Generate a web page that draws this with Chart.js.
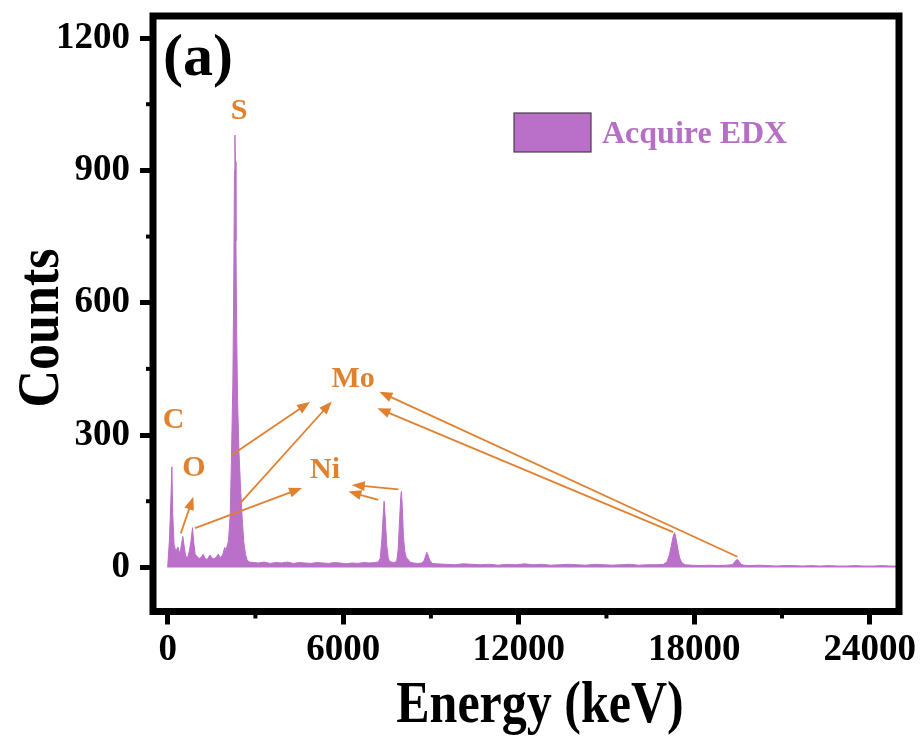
<!DOCTYPE html>
<html>
<head>
<meta charset="utf-8">
<script src="https://cdn.jsdelivr.net/npm/chart.js@4.4.1/dist/chart.umd.min.js"></script>
<style>
  body { margin: 0; background: #fff; }
  canvas { display: block; }
</style>
</head>
<body>
<canvas id="edxChart" width="920" height="740"></canvas>
<script>
"use strict";

//////////////////////////////
// Data
const energy = [
  0, 60, 110, 145, 175, 220, 280, 350, 420, 480, 520, 560, 620, 680, 740, 800, 850, 890, 940, 1000,
  1080, 1150, 1215, 1280, 1350, 1450, 1530, 1600, 1680, 1730, 1800, 1880, 1950, 2000,
  2080, 2140, 2180, 2230, 2260, 2285, 2300, 2315, 2335, 2360, 2390, 2440, 2500, 2550, 2600, 2660, 2720,
  2800, 2950, 3100, 3300, 3500, 3700, 3900, 4100, 4300, 4500, 4700, 4900, 5100, 5300, 5500, 5700,
  5900, 6100, 6300, 6500, 6700, 6900, 7100,
  7200, 7265, 7320, 7370, 7400, 7440, 7490, 7540, 7580, 7650, 7750, 7830, 7880, 7930, 7970, 7990,
  8020, 8060, 8110, 8160, 8220, 8280, 8400, 8550, 8700, 8770, 8830, 8860, 8900, 8960, 9040, 9200,
  9500, 9800, 10100, 10400, 10700, 11000, 11300, 11600, 11900, 12200, 12500, 12800, 13100, 13400,
  13700, 14000, 14300, 14600, 14900, 15200, 15500, 15800, 16100, 16400, 16700, 16950,
  17065, 17150, 17220, 17280, 17330, 17380, 17440, 17500, 17580, 17700,
  17900, 18200, 18500, 18800, 19100,
  19300, 19380, 19440, 19480, 19530, 19600, 19700,
  19900, 20200, 20500, 20800, 21100, 21400, 21700, 22000, 22300, 22600, 22900, 23200, 23500, 23800,
  24100, 24400, 24700, 25000
];
const counts = [
  0, 60, 150, 228, 120, 52, 36, 46, 30, 55, 70, 50, 25, 22, 36, 60, 90, 58, 30, 25,
  20, 23, 30, 20, 18, 28, 20, 19, 25, 30, 22, 28, 45, 40,
  60, 120, 240, 420, 640, 900, 980, 920, 740, 540, 380, 260, 170, 110, 60, 30, 16,
  12, 11, 10, 12, 9, 11, 10, 12, 9, 11, 10, 9, 11, 10, 9, 11,
  10, 8, 10, 9, 11, 10, 11,
  12, 20, 60, 120, 150, 110, 50, 22, 14, 12, 11, 14, 40, 110, 160, 172,
  140, 70, 35, 22, 18, 12, 10, 9, 10, 16, 28, 34, 28, 16, 9, 8,
  7, 6, 8, 7, 6, 7, 5, 7, 6, 8, 6, 7, 5, 6,
  7, 6, 5, 7, 6, 5, 6, 7, 5, 6, 6, 7,
  12, 28, 50, 70, 79, 65, 42, 22, 10, 6,
  5, 4, 5, 4, 5,
  6, 12, 17, 18, 14, 7, 5,
  4, 5, 4, 3, 4, 4, 3, 4, 3, 4, 3, 3, 4, 3,
  3, 4, 3, 3
];

const xTicks = [0, 6000, 12000, 18000, 24000];
const xMinorTicks = [3000, 9000, 15000, 21000];
const yTicks = [0, 300, 600, 900, 1200];
const yMinorTicks = [150, 450, 750, 1050];

// element labels, placed in data units (keV axis, counts)
const peakNames = ["C", "O", "S", "Ni", "Mo"];
const peakNameE = [200, 900, 2440, 5380, 6340];
const peakNameC = [334, 224, 1035, 221, 427];

// arrows: from (E, counts) to (E, counts)
const arrowFromE = [2190, 2475, 937, 448, 7887, 7203, 19477, 17279];
const arrowFromC = [255, 145, 89, 77, 177, 153, 24, 80];
const arrowToE = [4868, 5610, 4595, 879, 6294, 6178, 7238, 7169];
const arrowToC = [375, 376, 180, 160, 187, 172, 398, 361];

//////////////////////////////
// Styles
const serif = "'Liberation Serif', 'Times New Roman', serif";
const purple = "#BA70C8";
const orange = "#E0812F";

const drawArrow = function (ctx, x1, y1, x2, y2) {
  const a = Math.atan2(y2 - y1, x2 - x1);
  const head = 13;
  const half = 5;
  ctx.beginPath();
  ctx.moveTo(x1, y1);
  ctx.lineTo(x2 - Math.cos(a) * head * 0.8, y2 - Math.sin(a) * head * 0.8);
  ctx.stroke();
  ctx.beginPath();
  ctx.moveTo(x2, y2);
  ctx.lineTo(x2 - head * Math.cos(a) + half * Math.sin(a), y2 - head * Math.sin(a) - half * Math.cos(a));
  ctx.lineTo(x2 - head * Math.cos(a) - half * Math.sin(a), y2 - head * Math.sin(a) + half * Math.cos(a));
  ctx.closePath();
  ctx.fill();
};

// frame, minor ticks, notes, legend and axis titles
const decorations = {
  id: "decorations",
  afterDraw(chart) {
    const ctx = chart.ctx;
    const area = chart.chartArea;
    const xs = chart.scales.x;
    const ys = chart.scales.y;
    ctx.save();

    // minor ticks
    ctx.strokeStyle = "#000";
    ctx.lineWidth = 4;
    xMinorTicks.forEach((v) => {
      const px = xs.getPixelForValue(v);
      ctx.beginPath();
      ctx.moveTo(px, area.bottom);
      ctx.lineTo(px, area.bottom + 7);
      ctx.stroke();
    });
    yMinorTicks.forEach((v) => {
      const py = ys.getPixelForValue(v);
      ctx.beginPath();
      ctx.moveTo(area.left, py);
      ctx.lineTo(area.left - 7, py);
      ctx.stroke();
    });

    // frame
    ctx.lineWidth = 7;
    ctx.strokeRect(area.left, area.top, area.right - area.left, area.bottom - area.top);

    // arrows
    ctx.strokeStyle = orange;
    ctx.fillStyle = orange;
    ctx.lineWidth = 1.8;
    arrowFromE.forEach((e, i) => {
      drawArrow(
        ctx,
        xs.getPixelForValue(e),
        ys.getPixelForValue(arrowFromC[i]),
        xs.getPixelForValue(arrowToE[i]),
        ys.getPixelForValue(arrowToC[i])
      );
    });

    // element names
    ctx.font = `bold 30px ${serif}`;
    ctx.textAlign = "center";
    ctx.textBaseline = "middle";
    peakNames.forEach((name, i) => {
      ctx.fillText(name, xs.getPixelForValue(peakNameE[i]), ys.getPixelForValue(peakNameC[i]));
    });

    // panel label
    ctx.fillStyle = "#000";
    ctx.font = `bold 60px ${serif}`;
    ctx.textAlign = "left";
    ctx.textBaseline = "alphabetic";
    ctx.fillText("(a)", area.left + 10, area.top + 59);

    // legend
    const ds = chart.data.datasets[0];
    ctx.fillStyle = ds.backgroundColor;
    ctx.fillRect(514, 113, 77, 39);
    ctx.strokeStyle = "#4a3a4a";
    ctx.lineWidth = 1.2;
    ctx.strokeRect(514, 113, 77, 39);
    ctx.fillStyle = "#B56FC4";
    ctx.font = `bold 32px ${serif}`;
    ctx.fillText(ds.label, 602, 143);

    // axis titles
    ctx.fillStyle = "#000";
    ctx.textAlign = "center";
    ctx.save();
    ctx.translate(540, 722);
    ctx.scale(1, 1.18);
    ctx.font = `bold 50px ${serif}`;
    ctx.fillText("Energy (keV)", 0, 0);
    ctx.restore();

    ctx.save();
    ctx.translate(58, 328);
    ctx.rotate(-Math.PI / 2);
    ctx.scale(1, 1.14);
    ctx.font = `bold 52px ${serif}`;
    ctx.fillText("Counts", 0, 0);
    ctx.restore();

    ctx.restore();
  },
};

const tickFont = { family: serif, size: 37, weight: "bold" };

const chart = new Chart(document.getElementById("edxChart"), {
  type: "line",
  data: {
    datasets: [
      {
        label: "Acquire EDX",
        data: energy.map((e, i) => ({ x: e, y: counts[i] })),
        borderColor: purple,
        backgroundColor: purple,
        borderWidth: 1,
        pointRadius: 0,
        tension: 0,
        fill: "origin",
      },
    ],
  },
  options: {
    responsive: false,
    animation: false,
    layout: { padding: { top: 16, right: 21, left: 0, bottom: 0 } },
    plugins: {
      legend: { display: false },
      tooltip: { enabled: false },
    },
    scales: {
      x: {
        type: "linear",
        min: -500,
        max: 25000,
        afterFit(scale) {
          scale.height = 128.5;
          scale.paddingLeft = 0;
          scale.paddingRight = 0;
        },
        afterBuildTicks(scale) {
          scale.ticks = xTicks.map((v) => ({ value: v }));
        },
        border: { display: false },
        grid: { drawOnChartArea: false, tickLength: 13, tickWidth: 5, tickColor: "#000" },
        ticks: {
          color: "#000",
          padding: 4,
          maxRotation: 0,
          autoSkip: false,
          font: tickFont,
          callback: (v) => String(v),
        },
      },
      y: {
        type: "linear",
        min: -100,
        max: 1250,
        afterFit(scale) {
          scale.width = 153;
          scale.paddingTop = 0;
          scale.paddingBottom = 0;
        },
        afterBuildTicks(scale) {
          scale.ticks = yTicks.map((v) => ({ value: v }));
        },
        border: { display: false },
        grid: { drawOnChartArea: false, tickLength: 13, tickWidth: 5, tickColor: "#000" },
        ticks: {
          color: "#000",
          padding: 10,
          font: tickFont,
          callback: (v) => String(v),
        },
      },
    },
  },
  plugins: [decorations],
});
</script>
</body>
</html>
